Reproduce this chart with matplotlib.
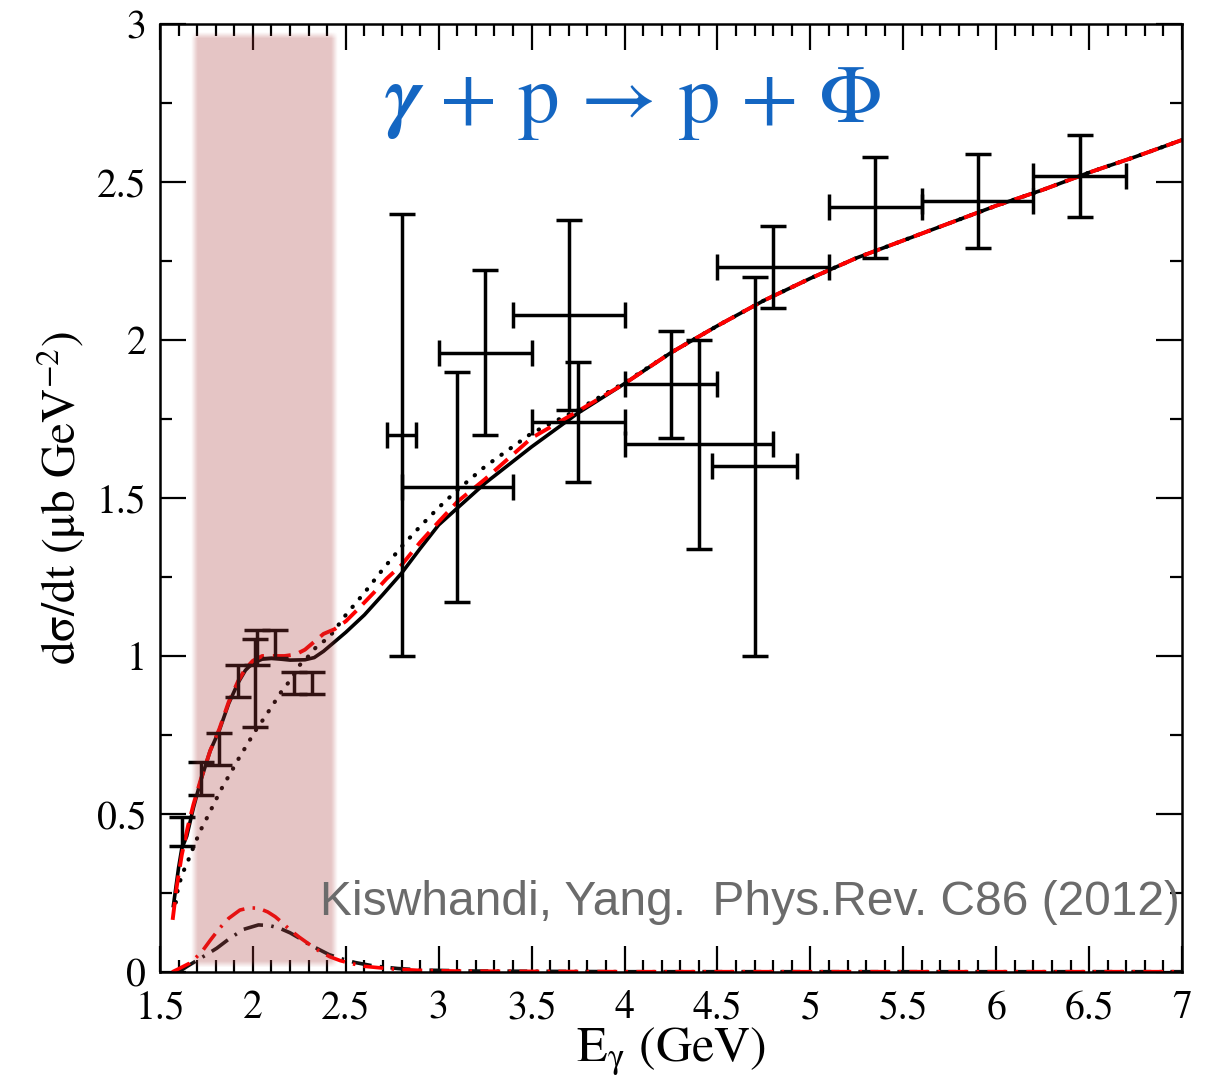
import numpy as np
import matplotlib
matplotlib.use("Agg")
import matplotlib.pyplot as plt

plt.rcParams["font.family"] = ["STIXGeneral", "DejaVu Serif"]
plt.rcParams["mathtext.fontset"] = "stix"

# ---- data: low-energy points (vertical errors only) ----
low_E = [1.62, 1.72, 1.82, 1.92, 2.01, 2.02, 2.12, 2.22, 2.32]
low_xs = [0.445, 0.612, 0.706, 0.921, 0.915, 1.027, 1.038, 0.915, 0.915]
low_err = [0.045, 0.052, 0.050, 0.051, 0.139, 0.055, 0.044, 0.035, 0.035]

# ---- data: high-energy points (energy bins and errors) ----
high_E = [2.80, 3.10, 3.25, 3.70, 3.75, 4.25, 4.40, 4.70, 4.80, 5.35, 5.90, 6.45]
high_Eerr = [0.08, 0.30, 0.25, 0.30, 0.25, 0.25, 0.40, 0.23, 0.30, 0.25, 0.30, 0.25]
high_xs = [1.70, 1.535, 1.96, 2.08, 1.74, 1.86, 1.67, 1.60, 2.23, 2.42, 2.44, 2.52]
high_err = [0.70, 0.365, 0.26, 0.30, 0.19, 0.17, 0.33, 0.60, 0.13, 0.16, 0.15, 0.13]

# ---- model curves ----
full_E = [1.572, 1.60, 1.617, 1.644, 1.68, 1.72, 1.77, 1.82, 1.87, 1.92, 1.96,
          2.00, 2.05, 2.10, 2.20, 2.28, 2.33, 2.38, 2.43, 2.50, 2.60, 2.70,
          2.80, 2.90, 3.00, 3.10, 3.25, 3.50, 3.75, 4.00, 4.25, 4.50, 4.75,
          5.00, 5.25, 5.50, 5.75, 6.00, 6.25, 6.50, 6.75, 7.00]
full_xs = [0.21, 0.33, 0.39, 0.43, 0.52, 0.607, 0.70, 0.766, 0.85, 0.915, 0.955,
           0.978, 0.99, 0.993, 0.987, 0.988, 0.995, 1.015, 1.04, 1.075, 1.13, 1.195,
           1.262, 1.34, 1.415, 1.468, 1.547, 1.662, 1.769, 1.862, 1.96, 2.045, 2.125,
           2.195, 2.26, 2.315, 2.37, 2.425, 2.475, 2.53, 2.58, 2.633]

alt_E = [1.568, 1.59, 1.617, 1.65, 1.68, 1.72, 1.77, 1.82, 1.87, 1.92, 1.96,
         2.00, 2.05, 2.11, 2.17, 2.23, 2.28, 2.33, 2.38, 2.44, 2.50, 2.56, 2.65,
         2.72, 2.80, 2.90, 3.00, 3.10, 3.25, 3.50, 3.75, 4.00, 4.25, 4.50, 4.75,
         5.00, 5.25, 5.50, 5.75, 6.00, 6.25, 6.50, 6.75, 7.00]
alt_xs = [0.165, 0.27, 0.37, 0.46, 0.53, 0.61, 0.70, 0.77, 0.855, 0.92, 0.96,
          0.985, 1.0, 1.0, 1.0, 1.005, 1.02, 1.045, 1.07, 1.085, 1.11, 1.145, 1.20,
          1.245, 1.288, 1.36, 1.425, 1.488, 1.56, 1.69, 1.775, 1.862, 1.96, 2.045, 2.125,
          2.195, 2.26, 2.315, 2.37, 2.425, 2.475, 2.53, 2.58, 2.633]

bkg_E = [1.585, 1.598, 1.625, 1.658, 1.69, 1.724, 1.765, 1.80, 1.84, 1.88, 1.924,
         1.967, 2.013, 2.06, 2.107, 2.155, 2.209, 2.253, 2.30, 2.35, 2.406, 2.45,
         2.50, 2.60, 2.70, 2.80, 2.90, 3.00, 3.10, 3.25, 3.50, 3.75, 4.00, 4.25,
         4.50, 4.75, 5.00, 5.25, 5.50, 5.75, 6.00, 6.25, 6.50, 6.75, 7.00]
bkg_xs = [0.22, 0.27, 0.317, 0.362, 0.41, 0.455, 0.502, 0.544, 0.59, 0.63, 0.676,
          0.718, 0.763, 0.803, 0.845, 0.889, 0.929, 0.972, 1.0, 1.035, 1.056, 1.09,
          1.13, 1.20, 1.275, 1.346, 1.41, 1.47, 1.525, 1.60, 1.705, 1.78, 1.865, 1.96,
          2.045, 2.125, 2.195, 2.26, 2.315, 2.37, 2.425, 2.475, 2.53, 2.58, 2.633]

res_red_E = [1.565, 1.60, 1.66, 1.72, 1.77, 1.82, 1.87, 1.93, 1.98, 2.03, 2.08,
             2.12, 2.16, 2.20, 2.25, 2.31, 2.36, 2.415, 2.47, 2.52, 2.60, 2.74,
             2.90, 3.10, 3.50, 4.00, 5.00, 6.00, 7.00]
res_red_xs = [0.0, 0.01, 0.028, 0.06, 0.10, 0.138, 0.17, 0.196, 0.203, 0.202, 0.19,
              0.175, 0.155, 0.133, 0.11, 0.085, 0.065, 0.048, 0.036, 0.028, 0.018, 0.010,
              0.005, 0.003, 0.002, 0.001, 0.001, 0.001, 0.001]

res_blk_E = [1.60, 1.644, 1.70, 1.75, 1.805, 1.877, 1.95, 2.03, 2.09, 2.146, 2.20,
             2.25, 2.30, 2.36, 2.41, 2.47, 2.55, 2.65, 2.78, 2.92, 3.20, 4.00,
             5.00, 6.00, 7.00]
res_blk_xs = [0.0, 0.017, 0.037, 0.055, 0.075, 0.107, 0.135, 0.149, 0.147, 0.138, 0.124,
              0.107, 0.088, 0.07, 0.055, 0.043, 0.03, 0.019, 0.011, 0.006, 0.003, 0.001,
              0.001, 0.001, 0.001]

# highlighted energy window
band_E = (1.683, 2.437)
band_xs = (0.022, 2.965)

W, H = 1208, 1084
fig = plt.figure(figsize=(W / 100, H / 100), dpi=100)
ax = fig.add_axes([160 / W, 112 / H, 1022 / W, 948 / H])

lw = 2.5
ax.errorbar(low_E, low_xs, yerr=low_err, fmt="none", ecolor="black",
            elinewidth=lw, capsize=9.4, capthick=lw, zorder=3)
ax.errorbar(high_E, high_xs, xerr=high_Eerr, yerr=high_err, fmt="none",
            ecolor="black", elinewidth=lw, capsize=9.4, capthick=lw, zorder=3)

ax.plot(bkg_E, bkg_xs, color="black", lw=3.0, linestyle=(0, (0.1, 2.6)),
        dash_capstyle="round", zorder=2)
ax.plot(full_E, full_xs, color="black", lw=2.6, zorder=2.2)
ax.plot(alt_E, alt_xs, color="#ff0000", lw=2.8, linestyle=(0, (4.6, 2.3)), zorder=2.4)
ax.plot(res_blk_E, res_blk_xs, color="#111111", lw=2.6,
        linestyle=(0, (5.5, 2.3, 0.7, 2.3)), zorder=2.3)
ax.plot(res_red_E, res_red_xs, color="#ff0000", lw=2.6,
        linestyle=(0, (5.5, 2.3, 0.7, 2.3)), zorder=2.35)

# soft-edged translucent band
xs_img = np.linspace(band_E[0] - 0.05, band_E[1] + 0.05, 400)
ys_img = np.linspace(band_xs[0] - 0.03, band_xs[1] + 0.03, 600)
wx, wy = 0.035, 0.02
ramp_x = np.clip(0.5 + (xs_img - band_E[0]) / wx, 0, 1) * np.clip(0.5 + (band_E[1] - xs_img) / wx, 0, 1)
ramp_y = np.clip(0.5 + (ys_img - band_xs[0]) / wy, 0, 1) * np.clip(0.5 + (band_xs[1] - ys_img) / wy, 0, 1)
alpha = np.outer(ramp_y, ramp_x) * 0.30
img = np.zeros((len(ys_img), len(xs_img), 4))
img[..., 0] = 0.67
img[..., 1] = 0.24
img[..., 2] = 0.24
img[..., 3] = alpha
ax.imshow(img, extent=(xs_img[0], xs_img[-1], ys_img[0], ys_img[-1]), origin="lower",
          aspect="auto", interpolation="bilinear", zorder=4)

ax.set_xlim(1.5, 7.0)
ax.set_ylim(0, 3.0)
ax.set_xticks(np.arange(1.5, 7.01, 0.5))
ax.set_xticklabels(["1.5", "2", "2.5", "3", "3.5", "4", "4.5", "5", "5.5", "6", "6.5", "7"])
ax.set_xticks(np.arange(1.5, 7.01, 0.1), minor=True)
ax.set_yticks(np.arange(0, 3.01, 0.5))
ax.set_yticklabels(["0", "0.5", "1", "1.5", "2", "2.5", "3"])
ax.set_yticks(np.arange(0, 3.01, 0.25), minor=True)
ax.tick_params(which="both", direction="in", top=True, right=True, width=1.6,
               labelsize=28.5)
ax.tick_params(axis="x", pad=13)
ax.tick_params(axis="y", pad=10)
ax.tick_params(which="major", length=18.5)
ax.tick_params(which="minor", length=8.5)
for s in ax.spines.values():
    s.set_linewidth(1.8)
for lab in ax.get_yticklabels():
    lab.set_verticalalignment("center_baseline")

ax.set_xlabel(r"E$_{\mathrm{\gamma}}$ (GeV)", fontsize=36, labelpad=-2)
ax.set_ylabel("d\u03c3/dt (\u03bcb GeV$^{\\mathrm{-2}}$)", fontsize=34, labelpad=6)

blue = "#1466C2"
fig.text(385 / W, 1 - 122 / H, "\u03b3", color=blue, fontsize=60,
         style="italic", weight="bold", ha="left", va="baseline")
fig.text(440 / W, 1 - 122 / H, "+ p \u2192 p + \u03a6", color=blue, fontsize=60,
         ha="left", va="baseline")

fig.text(320 / W, 1 - 915 / H, "Kiswhandi, Yang.  Phys.Rev. C86 (2012)",
         color="#6b6b6b", fontsize=34.5, family=["Liberation Sans", "DejaVu Sans"],
         ha="left", va="baseline", zorder=10)

fig.savefig("out.png", dpi=100)
